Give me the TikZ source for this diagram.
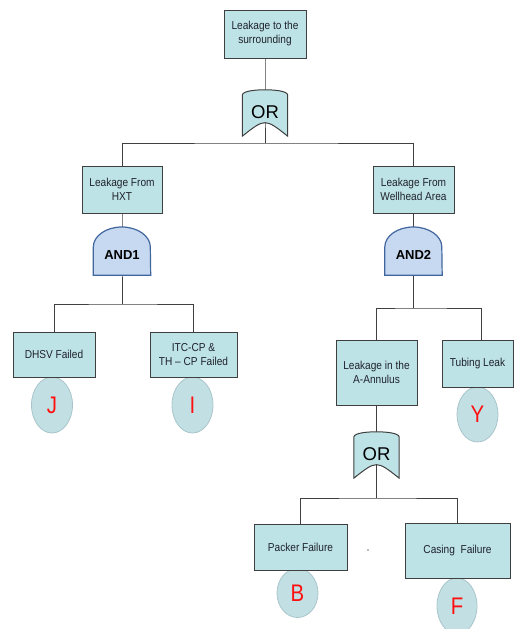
\documentclass[tikz,border=0pt]{standalone}
\usepackage{fontspec}
\setmainfont{Liberation Sans}
\newfontfamily\boxfont[FakeStretch=0.88]{Liberation Sans}
\newfontfamily\letterfont[FakeStretch=0.85]{Liberation Sans}
\usetikzlibrary{shapes.geometric,calc}

\definecolor{boxfill}{HTML}{BEE3E6}
\definecolor{boxline}{HTML}{3F3F3F}
\definecolor{textcol}{HTML}{1E222C}
\definecolor{linecol}{HTML}{404040}
\definecolor{andfill}{HTML}{C6D9F0}
\definecolor{andline}{HTML}{41669E}
\definecolor{circfill}{HTML}{C2E0E4}
\definecolor{circline}{HTML}{A9C5CB}
\definecolor{lettercol}{HTML}{FF1010}

\pgfdeclarelayer{lines}
\pgfdeclarelayer{gates}
\pgfsetlayers{lines,gates,main}

\tikzset{
  event/.style={draw=boxline, fill=boxfill, line width=1pt, inner sep=1pt,
    align=center, text=textcol, font=\boxfont\fontsize{11.5}{14}\selectfont},
  basic/.style={ellipse, draw=circline, fill=circfill, line width=0.8pt,
    inner sep=0pt, text=lettercol, font=\letterfont\fontsize{24}{24}\selectfont},
  link/.style={draw=linecol, line width=1pt},
  orgate/.style={minimum width=45pt, minimum height=46pt, inner sep=0pt,
    text height=13pt, text depth=3pt, text=black, font=\fontsize{18.5}{18.5}\selectfont},
  andgate/.style={minimum width=57pt, minimum height=48pt, inner sep=0pt,
    text height=17pt, text depth=0pt, text=black, font=\bfseries\fontsize{13}{13}\selectfont},
  orshape/.style={draw=boxline, fill=boxfill, line width=1pt},
  andshape/.style={draw=andline, fill=andfill, line width=1.2pt},
}

% outline of an OR gate around a named gate node
\newcommand\orgateoutline[1]{%
  \draw[orshape] (#1.south west) -- ($(#1.north west)+(0pt,-5pt)$)
    .. controls ($(#1.north west)+(1pt,-1pt)$) and ($(#1.north)+(-9pt,0pt)$) .. (#1.north)
    .. controls ($(#1.north)+(9pt,0pt)$) and ($(#1.north east)+(-1pt,-1pt)$) .. ($(#1.north east)+(0pt,-5pt)$)
    -- (#1.south east)
    .. controls ($(#1.south)+(0pt,18pt)$) .. (#1.south west) -- cycle;}

% outline of an AND gate around a named gate node
\newcommand\andgateoutline[1]{%
  \draw[andshape] (#1.south west) -- ($(#1.west)+(0pt,4pt)$)
    arc[start angle=180, end angle=0, x radius=28.5pt, y radius=20pt]
    -- (#1.south east) -- cycle;}

\begin{document}
\begin{tikzpicture}[x=1pt, y=-1pt]
  \useasboundingbox (0,0) rectangle (514,629);

  % basic events (drawn first so the boxes sit on top)
  \node[basic, minimum width=41pt, minimum height=56pt] (J) at (52,405) {J};
  \node[basic, minimum width=41pt, minimum height=56pt] (I) at (192.5,405) {I};
  \node[basic, minimum width=41pt, minimum height=55pt] (Y) at (477.5,414.5) {Y};
  \node[basic, minimum width=41pt, minimum height=49pt] (B) at (297.5,593) {B};
  \node[basic, minimum width=40pt, minimum height=56pt] (F) at (457,606) {F};

  % events
  \node[event, minimum width=82pt, minimum height=48pt] (top) at (265,34) {Leakage to the\\surrounding};
  \node[event, minimum width=80pt, minimum height=47pt] (hxt) at (122,189.5) {Leakage From\\HXT};
  \node[event, minimum width=81pt, minimum height=47pt] (well) at (413.5,189.5) {Leakage From\\Wellhead Area};
  \node[event, minimum width=82pt, minimum height=45pt] (dhsv) at (54,354.5) {DHSV Failed};
  \node[event, minimum width=87pt, minimum height=45pt] (itc) at (193.5,354.5) {ITC-CP \&\\TH – CP Failed};
  \node[event, minimum width=81pt, minimum height=65pt] (ann) at (376.5,372.5) {Leakage in the\\A-Annulus};
  \node[event, minimum width=71pt, minimum height=47pt] (tub) at (477.5,363.5) {Tubing Leak};
  \node[event, minimum width=93pt, minimum height=46pt] (pack) at (300.5,547) {Packer Failure};
  \node[event, minimum width=105pt, minimum height=55pt] (cas) at (457.5,550.5) {Casing\ \ Failure};

  % gates
  \node[orgate] (or1) at (265,113) {OR};
  \node[andgate] (and1) at (122,251) {AND1};
  \node[andgate] (and2) at (413.5,251) {AND2};
  \node[orgate] (or2) at (376.5,455) {OR};

  \begin{pgfonlayer}{gates}
    \orgateoutline{or1}
    \orgateoutline{or2}
    \andgateoutline{and1}
    \andgateoutline{and2}
  \end{pgfonlayer}

  % connectors
  \coordinate (s1) at (265,143);
  \coordinate (s2) at (122,304);
  \coordinate (s3) at (413.5,308);
  \coordinate (s4) at (376.5,498);
  \begin{pgfonlayer}{lines}
    \draw[link] (top.south) -- (or1.center) -- (s1);
    \draw[link] (hxt.north) |- (s1) -| (well.north);
    \draw[link] (hxt.south) -- (and1.center) -- (s2);
    \draw[link] (dhsv.north) |- (s2) -| (itc.north);
    \draw[link] (well.south) -- (and2.center) -- (s3);
    \draw[link] (ann.north) |- (s3) -| ($(tub.north)+(4pt,0pt)$);
    \draw[link] (ann.south) -- (or2.center) -- (s4);
    \draw[link] (pack.north) |- (s4) -| (cas.north);
  \end{pgfonlayer}

  % stray mark between the lowest events
  \fill[linecol!70] (368,550) circle (0.8pt);
\end{tikzpicture}
\end{document}
